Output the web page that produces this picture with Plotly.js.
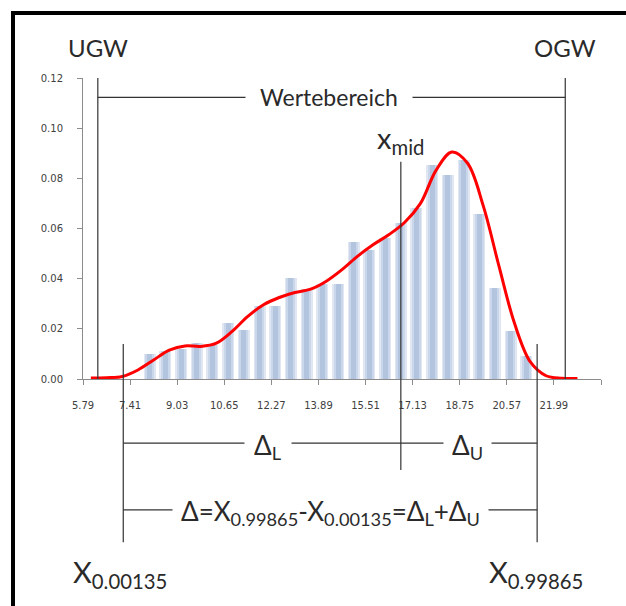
<!DOCTYPE html>
<html>
<head>
<meta charset="utf-8">
<script src="https://cdn.plot.ly/plotly-3.0.1.min.js"></script>
<style>
  html, body { margin: 0; padding: 0; background: #fff; }
  #wrap { position: relative; width: 626px; height: 606px; overflow: hidden; }
  #chart { position: absolute; left: 0; top: 0; width: 626px; height: 606px; }
  #frame { position: absolute; left: 11px; top: 11px; right: -10px; bottom: -10px;
           border-left: 4px solid #000; border-top: 4px solid #000; pointer-events: none; z-index: 5; }
</style>
</head>
<body>
<div id="wrap"><div id="chart"></div><div id="frame"></div></div>
<script>
// ---- data ----
const categories = [5.79, 6.33, 6.87, 7.41, 7.95, 8.49, 9.03, 9.57, 10.11, 10.65, 11.19,
                    11.73, 12.27, 12.81, 13.35, 13.89, 14.43, 14.97, 15.51, 16.05, 16.59,
                    17.13, 17.67, 18.21, 18.75, 19.29, 19.83, 20.37, 20.91, 21.45, 21.99,
                    22.53, 23.07];
const tickLabels = ['5.79', '7.41', '9.03', '10.65', '12.27', '13.89', '15.51', '17.13',
                    '18.75', '20.57', '21.99'];
const frequencies = [0, 0, 0, 0, 0.0100, 0.0110, 0.0120, 0.0145, 0.0136, 0.0223, 0.0194,
                     0.0290, 0.0293, 0.0404, 0.0358, 0.0380, 0.0380, 0.0545, 0.0516, 0.0563,
                     0.0623, 0.0680, 0.0852, 0.0814, 0.0875, 0.0656, 0.0363, 0.0192, 0.0092,
                     0, 0, 0, 0];
const densityCurve = [0.0004, 0.0005, 0.0010, 0.0036, 0.0076, 0.0115, 0.0132, 0.0130, 0.0143,
                      0.0190, 0.0250, 0.0296, 0.0325, 0.0345, 0.0358, 0.0390, 0.0436, 0.0490,
                      0.0536, 0.0576, 0.0625, 0.0700, 0.0833, 0.0905, 0.0860, 0.0690, 0.0450,
                      0.0220, 0.0068, 0.0013, 0.0003, 0.0002];
const yTicks = [0, 0.02, 0.04, 0.06, 0.08, 0.10, 0.12];

// marker positions (x in axis units)
const UGW = 6.03, OGW = 22.11;
const X_LOW = 6.905, X_MID = 16.454, X_HIGH = 21.143;
const WERTE_Y = 0.1123;

// ---- derived ----
const binW = categories[1] - categories[0];
const xRange = [categories[0] - binW / 2, categories[categories.length - 1] + binW / 2];
const tickVals = [];
for (let k = 0; k < categories.length; k += 3) tickVals.push(categories[k] - binW / 2);
tickVals.push(xRange[1]);
const tickText = tickLabels.concat(['']);
const curveX = categories.slice(0, densityCurve.length);

const plotW = 626 - 83 - 25;
const pxPerUnit = plotW / (xRange[1] - xRange[0]);
const barShift = -4 / pxPerUnit;

function barLayer(px, color) {
  const w = px / pxPerUnit;
  return {
    type: 'bar', x: categories, y: frequencies, width: w, offset: barShift - w / 2,
    marker: { color: color, line: { width: 0 } }, hoverinfo: 'skip', showlegend: false
  };
}

const traces = [
  barLayer(12, '#e0e7f3'),
  barLayer(9, '#cad6ea'),
  barLayer(5, '#b3c4df'),
  {
    type: 'scatter', mode: 'lines', x: curveX, y: densityCurve,
    line: { color: '#ff0000', width: 3, shape: 'spline', smoothing: 1 },
    cliponaxis: false, showlegend: false, hoverinfo: 'skip'
  }
];

const Y_DL = -0.213, Y_DELTA = -0.435;
const lineStyle = { color: '#333333', width: 1.2 };
const shapes = [
  { type: 'line', xref: 'x', yref: 'y', x0: UGW, x1: UGW, y0: 0, y1: 0.12, line: lineStyle },
  { type: 'line', xref: 'x', yref: 'y', x0: OGW, x1: OGW, y0: 0, y1: 0.12, line: lineStyle },
  { type: 'line', xref: 'x', yref: 'y', x0: UGW, x1: OGW, y0: WERTE_Y, y1: WERTE_Y, line: lineStyle },
  { type: 'line', xref: 'x', yref: 'paper', x0: X_MID, x1: X_MID, y0: -0.302, y1: 0.722, line: lineStyle },
  { type: 'line', xref: 'x', yref: 'paper', x0: X_LOW, x1: X_LOW, y0: -0.542, y1: 0.116, line: lineStyle },
  { type: 'line', xref: 'x', yref: 'paper', x0: X_HIGH, x1: X_HIGH, y0: -0.542, y1: 0.116, line: lineStyle },
  { type: 'line', xref: 'x', yref: 'paper', x0: X_LOW, x1: X_HIGH, y0: Y_DL, y1: Y_DL, line: lineStyle },
  { type: 'line', xref: 'x', yref: 'paper', x0: X_LOW, x1: X_HIGH, y0: Y_DELTA, y1: Y_DELTA, line: lineStyle }
];

const F = 'Lato, "Open Sans", sans-serif';
const txt = '#2a2a2a';
function ann(x, y, yref, text, size, extra) {
  return Object.assign({
    xref: 'x', yref: yref, x: x, y: y, text: text, showarrow: false,
    font: { family: F, size: size, color: txt }, xanchor: 'center', yanchor: 'middle'
  }, extra || {});
}
const annotations = [
  ann(UGW, 1.102, 'paper', 'UGW', 24),
  ann(OGW, 1.102, 'paper', 'OGW', 24),
  ann((UGW + OGW) / 2 - 0.1, WERTE_Y, 'y', 'Wertebereich', 23, { bgcolor: '#fff', borderpad: 14 }),
  ann(X_MID, 0.724, 'paper', 'x<sub>mid</sub>', 29, { yanchor: 'bottom' }),
  ann((X_LOW + X_MID) / 2 + 0.2, Y_DL - 0.01, 'paper', 'Δ<sub>L</sub>', 26, { bgcolor: '#fff', borderpad: 9 }),
  ann((X_MID + X_HIGH) / 2 - 0.05, Y_DL - 0.01, 'paper', 'Δ<sub>U</sub>', 26, { bgcolor: '#fff', borderpad: 8 }),
  ann((X_LOW + X_HIGH) / 2, Y_DELTA - 0.008, 'paper', 'Δ=X<sub>0.99865</sub>-X<sub>0.00135</sub>=Δ<sub>L</sub>+Δ<sub>U</sub>', 26, { bgcolor: '#fff', borderpad: 8 }),
  ann(X_LOW - 0.1, -0.645, 'paper', 'X<sub>0.00135</sub>', 29),
  ann(X_HIGH - 0.05, -0.645, 'paper', 'X<sub>0.99865</sub>', 29)
];

const layout = {
  width: 626, height: 606,
  margin: { l: 83, r: 25, t: 78, b: 227, pad: 0 },
  paper_bgcolor: '#fff', plot_bgcolor: '#fff',
  barmode: 'overlay', bargap: 0,
  showlegend: false,
  xaxis: {
    type: 'linear', range: xRange, fixedrange: true,
    showgrid: false, zeroline: false,
    showline: true, linecolor: '#8c8c8c', linewidth: 1,
    ticks: 'outside', ticklen: 5, tickcolor: '#8c8c8c',
    tickmode: 'array', tickvals: tickVals, ticktext: tickText,
    ticklabelshift: binW / 2 * pxPerUnit, ticklabelstandoff: 12,
    tickfont: { family: '"DejaVu Sans", sans-serif', size: 10, color: '#404040' }
  },
  yaxis: {
    range: [0, 0.12], fixedrange: true,
    showgrid: false, zeroline: false,
    showline: true, linecolor: '#8c8c8c', linewidth: 1,
    ticks: 'outside', ticklen: 5, tickcolor: '#8c8c8c',
    tickmode: 'array', tickvals: yTicks, tickformat: '.2f',
    ticklabelstandoff: 12,
    tickfont: { family: '"DejaVu Sans", sans-serif', size: 10, color: '#404040' }
  },
  shapes: shapes,
  annotations: annotations
};

Plotly.newPlot('chart', traces, layout, { staticPlot: true, displayModeBar: false });
</script>
</body>
</html>
